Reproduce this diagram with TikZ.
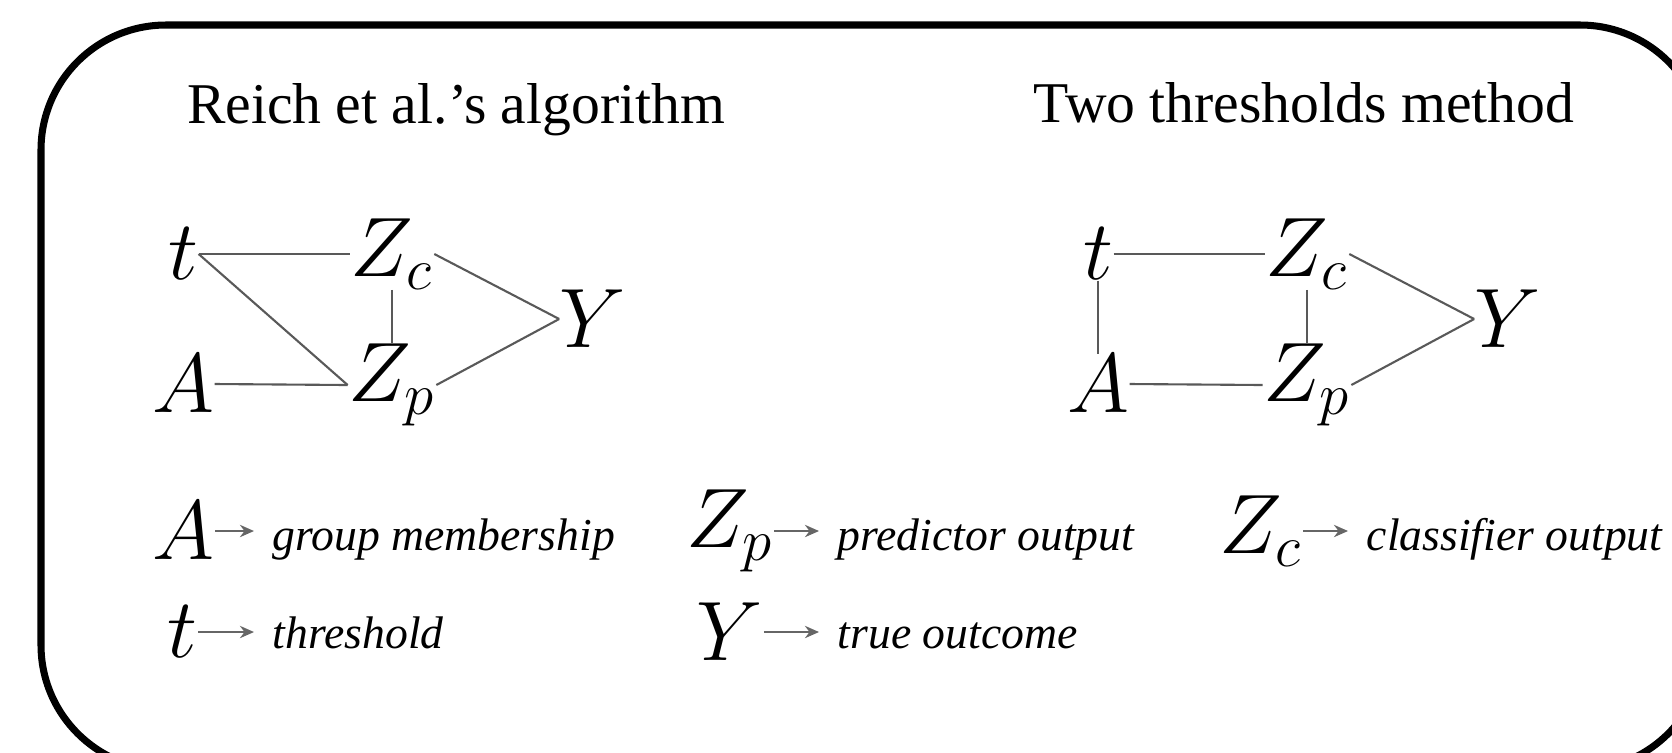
\documentclass[tikz,border=0pt]{standalone}
\usepackage{fix-cm}
\usepackage[no-math]{fontspec}
\setmainfont{Liberation Serif}
\usetikzlibrary{arrows.meta}

\tikzset{
  var/.style={inner sep=0pt, font=\fontsize{24}{28}\selectfont},
  edge/.style={line width=0.6pt, black!65},
  keyarrow/.style={line width=0.6pt, black!60, -{Stealth[length=4pt,width=3.5pt]}},
  desc/.style={anchor=base west, inner xsep=0.18cm, inner ysep=0pt,
    font=\fontsize{13}{15}\selectfont\itshape},
  heading/.style={anchor=base, inner sep=0pt, font=\fontsize{16.4}{19}\selectfont}
}

\begin{document}
\begin{tikzpicture}
  \useasboundingbox (0,0) rectangle (16.72,7.52);
  % ============ FRAME (runs past the right and bottom edges) ============
  \begin{scope}
    \clip (0,0) rectangle (16.72,7.52);
    \draw[line width=2pt, rounded corners=1.25cm] (0.41,7.27) rectangle (17.05,-0.18);
  \end{scope}

  % ============ LEFT GRAPH: REICH ET AL. ============
  \node[heading] (headL) at (4.56,6.29) {Reich et al.'s algorithm};
  \node[var] (tL)  at (1.83,4.98) {$t$};
  \node[var] (ZcL) at (3.92,4.98) {$Z_c$};
  \node[var] (ZpL) at (3.92,3.67) {$Z_p$};
  \node[var] (AL)  at (1.83,3.68) {$A$};
  \node[var] (YL)  at (5.93,4.33) {$Y$};
  \draw[edge] (tL) -- (ZcL);
  \draw[edge] (tL.east) -- (ZpL.west);
  \draw[edge] (AL.east) -- (ZpL.west);
  \draw[edge] (ZcL) -- (ZpL);
  \draw[edge] (ZcL.east) -- (YL.west);
  \draw[edge] (ZpL.east) -- (YL.west);

  % ============ RIGHT GRAPH: TWO THRESHOLDS ============
  \begin{scope}[xshift=9.15cm]
    \node[heading] (headR) at (3.89,6.30) {Two thresholds method};
    \node[var] (tR)  at (1.83,4.98) {$t$};
    \node[var] (ZcR) at (3.92,4.98) {$Z_c$};
    \node[var] (ZpR) at (3.92,3.67) {$Z_p$};
    \node[var] (AR)  at (1.83,3.68) {$A$};
    \node[var] (YR)  at (5.93,4.33) {$Y$};
    \draw[edge] (tR) -- (ZcR);
    \draw[edge] (tR) -- (AR);
    \draw[edge] (AR.east) -- (ZpR.west);
    \draw[edge] (ZcR) -- (ZpR);
    \draw[edge] (ZcR.east) -- (YR.west);
    \draw[edge] (ZpR.east) -- (YR.west);
  \end{scope}

  % ============ LEGEND ============
  % row 1
  \node[var]  (kA)  at (1.835,2.21) {$A$};
  \node[desc] (dA)  at (2.54,2.02) {group membership};
  \node[var]  (kZp) at (7.30,2.21) {$Z_p$};
  \node[desc] (dZp) at (8.19,2.02) {predictor output};
  \node[var]  (kZc) at (12.61,2.21) {$Z_c$};
  \node[desc] (dZc) at (13.48,2.02) {classifier output};
  % row 2
  \node[var]  (kt)  at (1.825,1.20) {$t$};
  \node[desc] (dt)  at (2.54,1.04) {threshold};
  \node[var]  (kY)  at (7.30,1.20) {$Y$};
  \node[desc] (dY)  at (8.19,1.04) {true outcome};
  \draw[keyarrow] (kA.east)  -- (kA.east -| dA.west);
  \draw[keyarrow] (kZp.east) -- (kZp.east -| dZp.west);
  \draw[keyarrow] (kZc.east) -- (kZc.east -| dZc.west);
  \draw[keyarrow] (kt.east)  -- (kt.east -| dt.west);
  \draw[keyarrow] (kY.east)  -- (kY.east -| dY.west);
\end{tikzpicture}
\end{document}
